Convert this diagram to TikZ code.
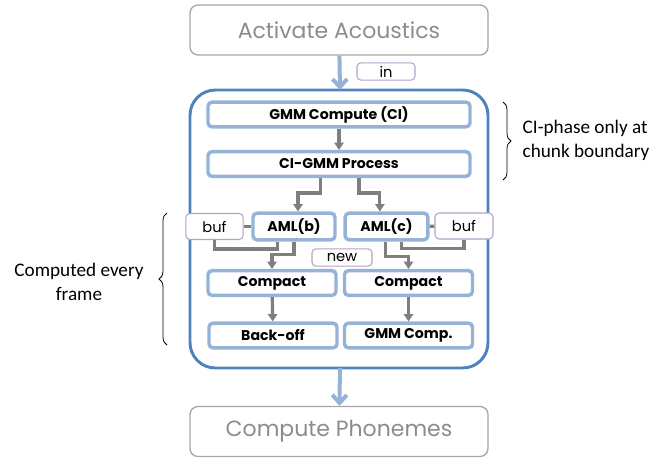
\documentclass[tikz,border=0pt]{standalone}
\usepackage{fontspec}
\usepackage{tikz}
\usetikzlibrary{positioning,calc,arrows.meta,decorations.pathreplacing}
\newfontfamily\gothic{Poppins}
\newfontfamily\notefont{Carlito}
\definecolor{stagegray}{HTML}{A6A6A6}
\definecolor{stagetext}{HTML}{8C8C8C}
\definecolor{frameblue}{HTML}{4F81BD}
\definecolor{boxblue}{HTML}{95B3D7}
\definecolor{tagpurple}{HTML}{B3A2C7}
\definecolor{flowgray}{HTML}{7F7F7F}

\begin{document}
\begin{tikzpicture}[x=0.75pt,y=-0.75pt,
	stage/.style={draw=stagegray, line width=1pt, rounded corners=6pt, minimum width=223.5pt, minimum height=37.5pt, text=stagetext, font=\gothic\fontsize{16.5}{19}\selectfont},
	unit/.style={draw=boxblue, line width=2.6pt, rounded corners=3pt, inner sep=0pt, minimum height=18.5pt, font=\gothic\bfseries\fontsize{10.6}{12}\selectfont},
	tag/.style={draw=tagpurple, line width=0.8pt, rounded corners=3pt, inner sep=0pt, fill=white, font=\gothic\fontsize{11}{12}\selectfont},
	garrow/.style={draw=flowgray, line width=2.4pt, -{Triangle[length=5.5pt,width=7pt]}},
	gline/.style={draw=flowgray, line width=2.4pt},
	barrow/.style={draw=boxblue, line width=3pt, -{Straight Barb[length=6pt,width=11pt,line width=3pt]}},
	note/.style={font=\notefont\fontsize{14.4}{18}\selectfont, align=center},
	brc/.style={decorate, decoration={brace, amplitude=6pt}, draw=black, line width=0.6pt}]
	\useasboundingbox (0,0) rectangle (671,458);
	
	\def \unitw {96pt}
	
	% stages outside
	\node[stage] (act) at (339,30) {Activate Acoustics};
	\node[stage] (phon) at (339,431.5) {Compute Phonemes};
	
	% frame round the acoustic units
	\draw[frameblue, line width=2.2pt, rounded corners=19pt] (190,90) rectangle (488,368);
	\coordinate (ftop) at (340,90);
	\coordinate (fbot) at (340,368);
	
	\node[unit, minimum width=196.5pt] (gmm) at (339,114.5) {GMM Compute (CI)};
	\node[unit, minimum width=196.5pt] (cigmm) at (339,164) {CI-GMM Process};
	\node[unit, minimum width=61.5pt, minimum height=20pt] (amlb) at (294,226.5) {AML(b)};
	\node[unit, minimum width=62pt, minimum height=20pt] (amlc) at (386.5,226.5) {AML(c)};
	\node[unit, minimum width=\unitw] (compl) at (272,283) {Compact};
	\node[unit, minimum width=\unitw] (compr) at (408.5,283) {Compact};
	\node[unit, minimum width=\unitw] (backoff) at (273,335.5) {Back-off};
	\node[unit, minimum width=\unitw] (gmmc) at (408.5,335.5) {GMM Comp.};
	
	% buffers and tags
	\node[tag, minimum width=43pt, minimum height=19.5pt] (bufl) at (214.5,226.5) {buf};
	\node[tag, minimum width=43.5pt, minimum height=19.5pt] (bufr) at (464,226) {buf};
	\node[tag, minimum width=43.5pt, minimum height=13pt] (intag) at (386,71.5) {in};
	\node[tag, minimum width=45pt, minimum height=13pt] (newtag) at (342,257.5) {new};
	
	% flow
	\draw[barrow] (act) -- (ftop);
	\draw[barrow] (fbot) -- (phon);
	\draw[garrow] (gmm) -- (cigmm);
	\draw[garrow] ([xshift=-14pt]cigmm.south) -- ++(0,15) -| ([xshift=3pt]amlb.north);
	\draw[garrow] ([xshift=15pt]cigmm.south) -- ++(0,15) -| ([xshift=-5pt]amlc.north);
	\draw[gline] (bufl) -- (amlb);
	\draw[gline] (amlc) -- (bufr);
	\draw[gline] (bufl.south) -- ++(0,9) -| ([xshift=-12.5pt]amlb.south);
	\draw[garrow] (amlb.south) -- ++(0,13) -| (compl.north);
	\draw[gline] (bufr.south) -- ++(0,9) -| ([xshift=11.5pt]amlc.south);
	\draw[garrow] ([xshift=-1pt]amlc.south) -- ++(0,15) -| (compr.north);
	\draw[garrow] (compl) -- (backoff);
	\draw[garrow] (compr) -- (gmmc);
	
	% notes
	\draw[brc] (503,102) -- (503,180);
	\node[note, align=left, anchor=west] (cinote) at (518,140) {CI-phase only at\\chunk boundary};
	\draw[brc] (167,345) -- (167,213);
	\node[note] (framenote) at (79,282) {Computed every\\frame};
\end{tikzpicture}
\end{document}
